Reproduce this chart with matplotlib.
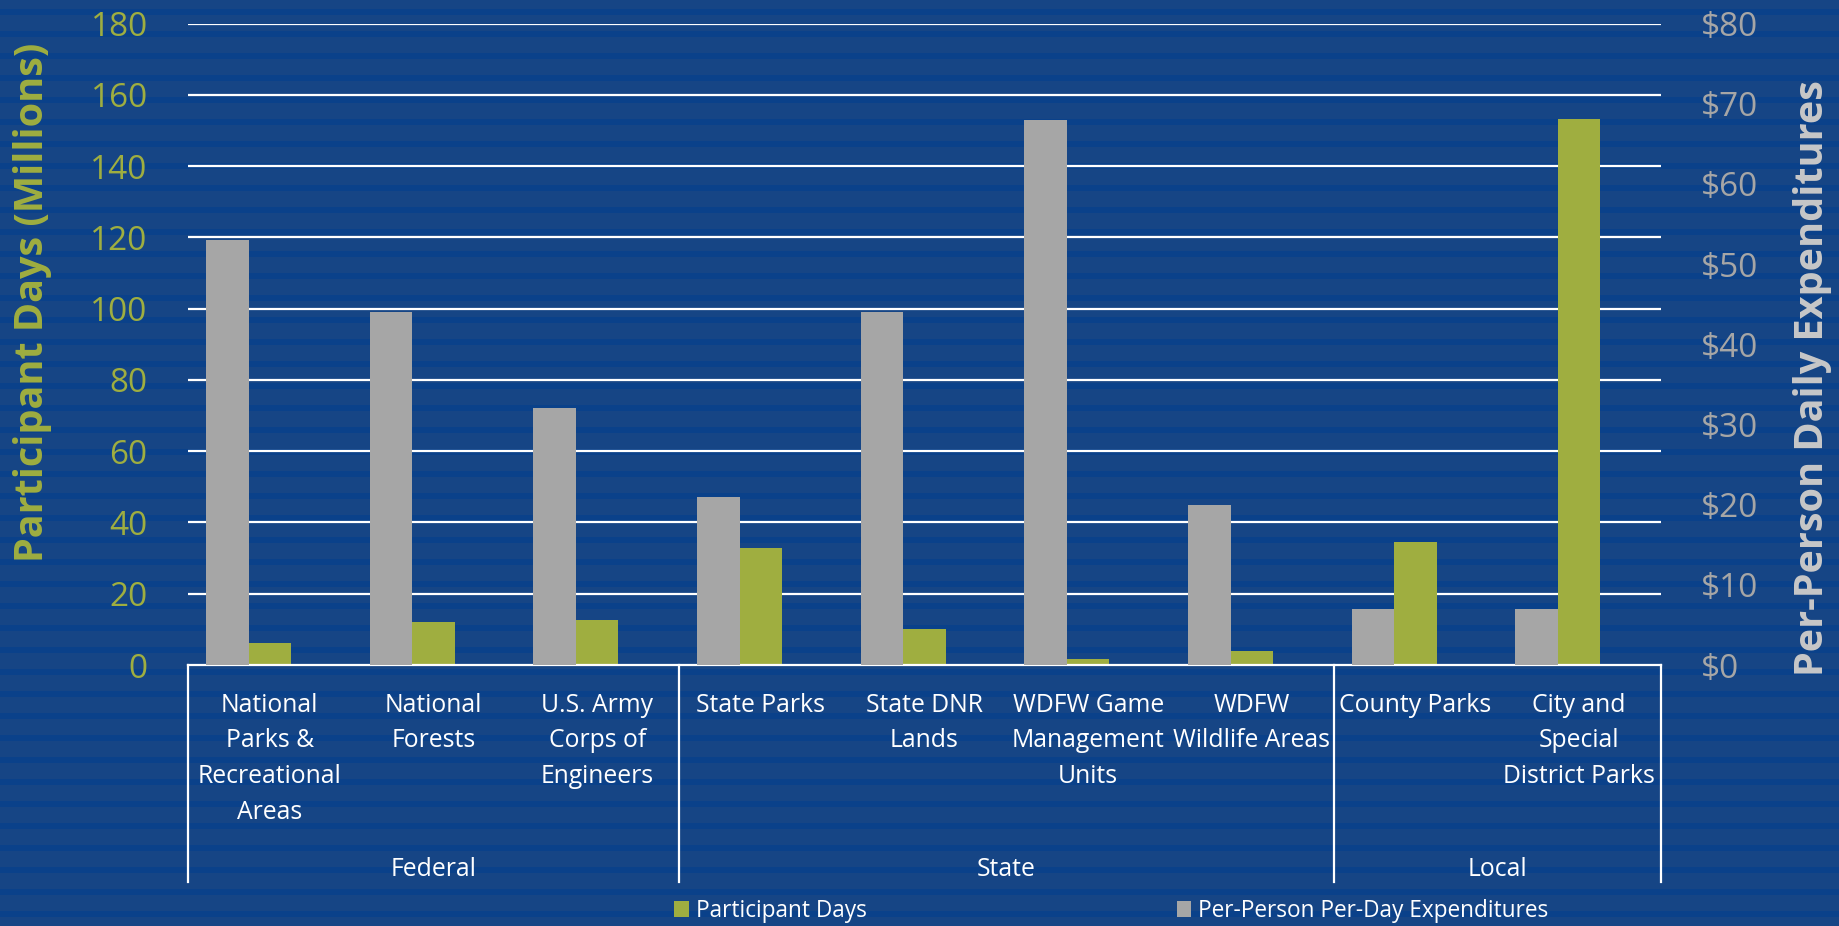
import matplotlib
matplotlib.use("Agg")
import matplotlib.pyplot as plt
import matplotlib.transforms as mtransforms
import numpy as np

plt.rcParams['font.family'] = ['Open Sans', 'DejaVu Sans']

categories = ["National\nParks &\nRecreational\nAreas", "National\nForests",
              "U.S. Army\nCorps of\nEngineers", "State Parks", "State DNR\nLands",
              "WDFW Game\nManagement\nUnits", "WDFW\nWildlife Areas", "County Parks",
              "City and\nSpecial\nDistrict Parks"]
groups = ["Federal", "State", "Local"]
group_sizes = [3, 4, 2]
participant_days = [6.3, 12.2, 12.5, 32.9, 10.2, 1.6, 3.9, 34.6, 153.3]
expenditures = [53, 44, 32, 21, 44, 68, 20, 7, 7]

green = "#9fae40"
grey = "#a6a6a6"
light_bg = "#164585"
dark_bg = "#0a418a"

W, H = 1839, 926
fig = plt.figure(figsize=(W / 100, H / 100), dpi=100)
fig.patch.set_facecolor(light_bg)

# striped background
bg = fig.add_axes([0, 0, 1, 1], zorder=-10)
bg.set_xlim(0, 1)
bg.set_ylim(H, 0)
bg.axis("off")
for y in range(9, H, 22):
    bg.axhspan(y, y + 6, color=dark_bg, lw=0)

ax = fig.add_axes([188 / W, 261 / H, (1661 - 188) / W, (665 - 23.5) / H])
ax.patch.set_visible(False)
ax2 = ax.twinx()
ax2.patch.set_visible(False)

x = np.arange(len(categories))
bw = 0.26
ax.bar(x, participant_days, bw, color=green, label="Participant Days", zorder=3)
ax2.bar(x - bw, expenditures, bw, color=grey, label="Per-Person Per-Day Expenditures", zorder=3)

ax.set_xlim(-0.5, len(categories) - 0.5)
ax.set_ylim(0, 180)
ax2.set_ylim(0, 80)
ax.set_yticks(np.arange(0, 181, 20))
ax2.set_yticks(np.arange(0, 81, 10))
ax2.set_yticklabels([f"${v}" for v in range(0, 81, 10)])
ax.set_axisbelow(True)
for v in range(20, 181, 20):
    ax.axhline(v, color="white", lw=1.6, zorder=0)

for a in (ax, ax2):
    for s in a.spines.values():
        s.set_visible(False)
ax.tick_params(axis="y", length=0, pad=29, labelsize=24, labelcolor=green)
ax2.tick_params(axis="y", length=0, pad=29, labelsize=24, labelcolor=grey)
ax.set_xticks([])

# category axis with group boxes
trans = mtransforms.blended_transform_factory(ax.transData, ax.transAxes)
ybot = (665 - 882) / (665 - 23.5)
ax.plot([-0.5, len(categories) - 0.5], [0, 0], color="white", lw=1.6,
        transform=trans, clip_on=False, zorder=4)
bounds = np.concatenate([[0], np.cumsum(group_sizes)]) - 0.5
for b in bounds:
    ax.plot([b, b], [0, ybot], color="white", lw=1.6, transform=trans, clip_on=False)
for xi, lab in zip(x, categories):
    ax.text(xi, -0.043, lab, transform=trans, ha="center", va="top",
            fontsize=17.8, color="white", linespacing=1.57)
for g, lo, hi in zip(groups, bounds[:-1], bounds[1:]):
    ax.text((lo + hi) / 2, (665 - 870) / (665 - 23.5), g, transform=trans,
            ha="center", va="center", fontsize=17.8, color="white")

fig.text(33 / W, (H - 302) / H, "Participant Days (Millions)", rotation=90,
         ha="center", va="center", fontsize=28.5, fontweight="bold", color=green)
fig.text(1812 / W, (H - 378) / H, "Per-Person Daily Expenditures", rotation=90,
         ha="center", va="center", fontsize=28.5, fontweight="bold", color="#c8c8c8")

h1, l1 = ax.get_legend_handles_labels()
h2, l2 = ax2.get_legend_handles_labels()
leg = fig.legend(h1 + h2, l1 + l2, ncol=2, loc="center left",
                 bbox_to_anchor=(674 / W, (H - 911) / H), frameon=False,
                 fontsize=16.3, labelcolor="white", handlelength=0.65,
                 handleheight=0.65, handletextpad=0.3, columnspacing=13.7,
                 borderpad=0, borderaxespad=0)

fig.savefig("out.png", dpi=100, facecolor=fig.get_facecolor())
